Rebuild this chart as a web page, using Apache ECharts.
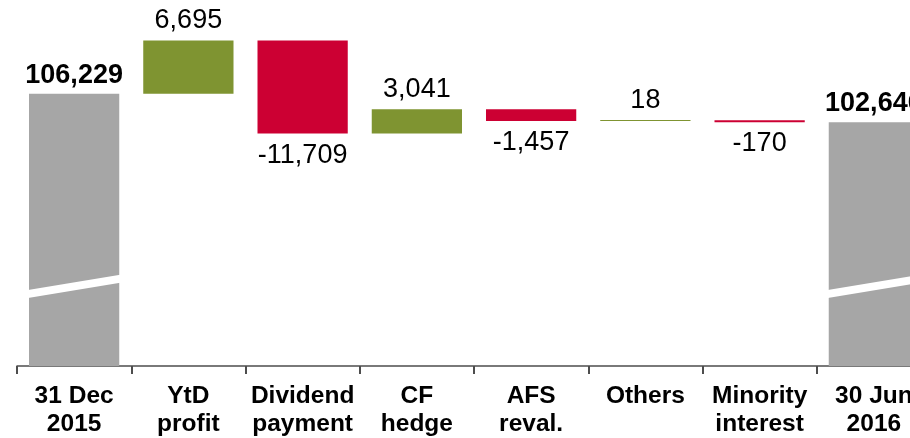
<!DOCTYPE html>
<html>
<head>
<meta charset="utf-8">
<script src="https://cdn.jsdelivr.net/npm/echarts@6/dist/echarts.min.js"></script>
<style>
  html, body { margin: 0; padding: 0; background: #ffffff; overflow: hidden; }
  #wrap { width: 910px; height: 438px; overflow: hidden; position: relative; }
  #chart { width: 931px; height: 438px; position: absolute; left: 0; top: 0; }
</style>
</head>
<body>
<div id="wrap"><div id="chart"></div></div>
<script>
// ---- data ----
var categories = ['31 Dec\n2015', 'YtD\nprofit', 'Dividend\npayment', 'CF\nhedge', 'AFS\nreval.', 'Others', 'Minority\ninterest', '30 Jun\n2016'];
var totalStart = 106229;
var changes = [6695, -11709, 3041, -1457, 18, -170];
var totalEnd = 102646;

// ---- styling constants ----
var FONT = '"Liberation Sans", Arial, sans-serif';
var GREY = '#A6A6A6';
var GREEN = '#7F9431';
var RED = '#CC0033';
var BAR_RATIO = 0.79;
var BREAK_LEVEL = 82000;

// ---- build waterfall series ----
var n = categories.length;
var baseData = [], upData = [], downData = [], totalData = [];
var level = totalStart;
for (var i = 0; i < n; i++) {
  baseData.push('-'); upData.push('-'); downData.push('-'); totalData.push('-');
}
baseData[0] = 0; totalData[0] = totalStart;
for (var k = 0; k < changes.length; k++) {
  var idx = k + 1;
  var c = changes[k];
  var next = level + c;
  baseData[idx] = Math.min(level, next);
  if (c >= 0) upData[idx] = c; else downData[idx] = -c;
  level = next;
}
baseData[n - 1] = 0; totalData[n - 1] = totalEnd;

function fmt(v) { return Number(v).toLocaleString('en-US'); }

var chart = echarts.init(document.getElementById('chart'), null, { renderer: 'canvas' });

var option = {
  animation: false,
  backgroundColor: '#ffffff',
  grid: { left: 17, right: 0, top: 0, bottom: 67, containLabel: false },
  xAxis: {
    type: 'category',
    data: categories,
    axisLine: { show: true, lineStyle: { color: '#4d4d4d', width: 1.5 } },
    axisTick: { show: true, length: 8, lineStyle: { color: '#4d4d4d', width: 2 } },
    axisLabel: {
      interval: 0,
      margin: 16,
      color: '#000000',
      fontFamily: FONT,
      fontWeight: 'bold',
      fontSize: 24.5,
      lineHeight: 28
    }
  },
  yAxis: {
    type: 'value',
    min: 72000,
    max: 118000,
    show: false,
    splitLine: { show: false }
  },
  series: [
    {
      name: 'base', type: 'bar', stack: 'w', barWidth: (BAR_RATIO * 100) + '%',
      itemStyle: { color: 'rgba(0,0,0,0)' },
      emphasis: { disabled: true },
      data: baseData
    },
    {
      name: 'total', type: 'bar', stack: 'w', barWidth: (BAR_RATIO * 100) + '%',
      itemStyle: { color: GREY },
      label: {
        show: true, position: 'top', distance: 5,
        color: '#000000', fontFamily: FONT, fontWeight: 'bold', fontSize: 27,
        formatter: function (p) { return fmt(p.value); }
      },
      data: totalData
    },
    {
      name: 'up', type: 'bar', stack: 'w', barWidth: (BAR_RATIO * 100) + '%',
      barMinHeight: 1,
      itemStyle: { color: GREEN },
      label: {
        show: true, position: 'top', distance: 6,
        color: '#000000', fontFamily: FONT, fontSize: 27,
        formatter: function (p) { return fmt(p.value); }
      },
      data: upData
    },
    {
      name: 'down', type: 'bar', stack: 'w', barWidth: (BAR_RATIO * 100) + '%',
      barMinHeight: 2,
      itemStyle: { color: RED },
      label: {
        show: true, position: 'bottom', distance: 8,
        color: '#000000', fontFamily: FONT, fontSize: 27,
        formatter: function (p) { return '-' + fmt(p.value); }
      },
      data: downData
    },
    {
      name: 'break', type: 'custom', z: 10,
      renderItem: function (params, api) {
        var p = api.coord([api.value(0), BREAK_LEVEL]);
        var w = api.size([1, 0])[0] * BAR_RATIO + 2;
        var slope = 15 / 90, h = 4;
        var L = p[0] - w / 2, R = p[0] + w / 2;
        var yL = p[1] + (w / 2) * slope, yR = p[1] - (w / 2) * slope;
        return {
          type: 'polygon',
          shape: { points: [[L, yL - h], [R, yR - h], [R, yR + h], [L, yL + h]] },
          style: { fill: '#ffffff' }
        };
      },
      data: [[0, BREAK_LEVEL], [n - 1, BREAK_LEVEL]]
    }
  ]
};
chart.setOption(option);
</script>
</body>
</html>
